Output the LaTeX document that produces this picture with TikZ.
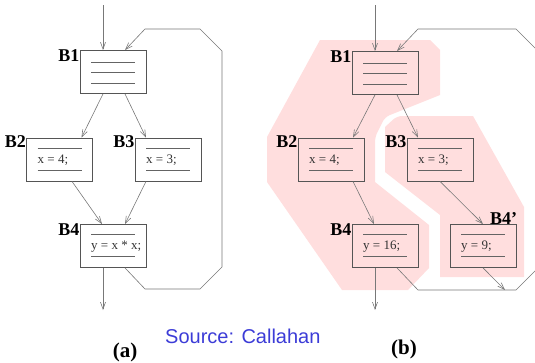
\documentclass[tikz,border=0pt]{standalone}
\usepackage{fontspec}
\setmainfont{Liberation Serif}
\newfontfamily\srcfont{Liberation Sans}
\usetikzlibrary{arrows.meta,calc}

\definecolor{boxgray}{RGB}{85,85,85}
\definecolor{linegray}{RGB}{100,100,100}
\definecolor{arrowgray}{RGB}{120,120,120}
\definecolor{regionpink}{RGB}{255,222,222}
\definecolor{srcblue}{RGB}{60,60,215}

\tikzset{
  blk/.style={draw=boxgray, line width=0.8pt, minimum width=66pt, minimum height=43pt, inner sep=0pt},
  stmt/.style={draw=linegray, line width=0.7pt},
  code/.style={font=\fontsize{13}{13}\selectfont, text=black!80, anchor=west, inner sep=0pt},
  lbl/.style={font=\fontsize{18}{18}\selectfont\bfseries, anchor=base east, inner sep=0pt},
  captxt/.style={font=\fontsize{21}{21}\selectfont\bfseries, anchor=base, inner sep=0pt},
  flow/.style={draw=arrowgray, line width=0.6pt, -{Straight Barb[length=7pt,width=5pt]}},
  region/.style={fill=regionpink, draw=none},
}

\begin{document}
\begin{tikzpicture}[x=1pt, y=-1pt]
  \clip (0,0) rectangle (535,362);
  \useasboundingbox (0,0) rectangle (535,362);

  % shaded regions of (b)
  \fill[region] (320,40) -- (430,40) -- (440,50) -- (440,95)
    [rounded corners=5pt] -- (385,117) -- (375,137) [sharp corners] -- (375,182)
    -- (429,225) -- (429,268) -- (408,290) -- (342,290) -- (267,182) -- (267,137) -- cycle;
  \fill[region] [rounded corners=5pt] (385,127) -- (397,116) [sharp corners] -- (473,116)
    -- (524,207) -- (524,277) -- (440,277) -- (440,215) -- (385,172) -- cycle;

  % (a)
  \node[blk] (a1) at (113,72) {};
  \node[blk] (a2) at (59.5,159.5) {};
  \node[blk] (a3) at (168,159.5) {};
  \node[blk] (a4) at (113,246) {};
  % (b)
  \node[blk] (b1) at (385,73) {};
  \node[blk] (b2) at (331,159.5) {};
  \node[blk] (b3) at (440,159.5) {};
  \node[blk] (b4) at (385,246) {};
  \node[blk] (b4p) at (483,246) {};

  % statement lines
  \foreach \n in {a1,b1}
    \foreach \dy in {-10,0,11}
      \draw[stmt] ($(\n.center)+(-22,\dy)$) -- ++(44,0);
  \foreach \n in {a2,a3,a4,b2,b3,b4,b4p}
    \foreach \dy in {-11.5,10.5}
      \draw[stmt] ($(\n.center)+(-22,\dy)$) -- ++(44,0);

  \node[code] (c2) at ($(a2.center)+(-22,0.5)$) {x = 4;};
  \node[code] (c3) at ($(a3.center)+(-22,0.5)$) {x = 3;};
  \node[code] (c4) at ($(a4.center)+(-22,0.5)$) {y = x * x;};
  \node[code] (d2) at ($(b2.center)+(-22,0.5)$) {x = 4;};
  \node[code] (d3) at ($(b3.center)+(-22,0.5)$) {x = 3;};
  \node[code] (d4) at ($(b4.center)+(-22,0.5)$) {y = 16;};
  \node[code] (d4p) at ($(b4p.center)+(-22,0.5)$) {y = 9;};

  % block labels
  \node[lbl] (la1) at ([yshift=-11pt]a1.north west) {B1};
  \node[lbl] (la2) at ([yshift=-10pt]a2.north west) {B2};
  \node[lbl] (la3) at ([yshift=-10pt]a3.north west) {B3};
  \node[lbl] (la4) at ([yshift=-11pt]a4.north west) {B4};
  \node[lbl] (lb1) at ([yshift=-11pt]b1.north west) {B1};
  \node[lbl] (lb2) at ([yshift=-10pt]b2.north west) {B2};
  \node[lbl] (lb3) at ([yshift=-10pt]b3.north west) {B3};
  \node[lbl] (lb4) at ([yshift=-11pt]b4.north west) {B4};
  \node[lbl] (lb4p) at ([xshift=1pt]b4p.north east) {B4'};

  % entry and exit points
  \coordinate (ain) at (103,5);
  \coordinate (aout) at (103,310);
  \coordinate (bin) at (375,5);
  \coordinate (bout) at (375,310);
  \coordinate (bjoin) at (505,290);

  % edges of (a)
  \draw[flow] (ain) -- ([xshift=-10pt]a1.north);
  \draw[flow] ([xshift=-10pt]a1.south) -- ([xshift=22pt]a2.north);
  \draw[flow] ([xshift=12pt]a1.south) -- ([xshift=-22pt]a3.north);
  \draw[flow] ([xshift=12.5pt]a2.south) -- ([xshift=-11pt]a4.north);
  \draw[flow] ([xshift=-22pt]a3.south) -- ([xshift=12pt]a4.north);
  \draw[flow] ([xshift=-10pt]a4.south) -- (aout);
  \draw[flow] ([xshift=12pt]a4.south) -- (145,289) -- (200,289) -- (222,267)
    -- (222,51) -- (200,29) -- (145,29) -- ([xshift=12pt]a1.north);

  % edges of (b)
  \draw[flow] (bin) -- ([xshift=-10pt]b1.north);
  \draw[flow] ([xshift=-10pt]b1.south) -- ([xshift=22pt]b2.north);
  \draw[flow] ([xshift=12pt]b1.south) -- ([xshift=-22pt]b3.north);
  \draw[flow] ([xshift=22pt]b2.south) -- ([xshift=-11pt]b4.north);
  \draw[flow] (b3.south) -- (b4p.north);
  \draw[flow] ([xshift=-10pt]b4.south) -- (bout);
  \draw[flow] ([xshift=12pt]b4.south) -- (418,290) -- (516,290) -- (538,268)
    -- (538,51) -- (516,29) -- (418,29) -- ([xshift=12pt]b1.north);
  \draw[flow] (b4p.south) -- (bjoin);

  % captions
  \node[captxt] (capa) at (125,357) {(a)};
  \node[captxt] (capb) at (404,354) {(b)};
  \node[font=\srcfont\fontsize{20}{20}\selectfont, text=srcblue, anchor=base west, inner sep=0pt] (src) at (165,343) {Source: Callahan};
\end{tikzpicture}
\end{document}
